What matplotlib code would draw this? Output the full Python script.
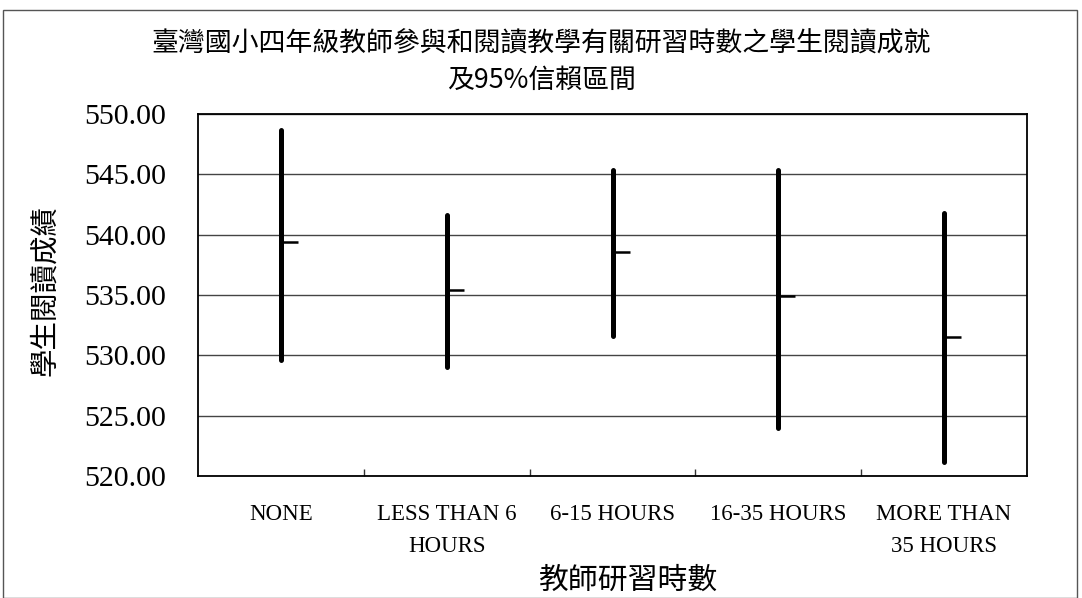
import matplotlib
matplotlib.use("Agg")
import matplotlib.pyplot as plt
from matplotlib.patches import Rectangle
from matplotlib.path import Path

categories = ["NONE", "LESS THAN 6\nHOURS", "6-15 HOURS", "16-35 HOURS", "MORE THAN\n35 HOURS"]
high = [548.7, 541.6, 545.4, 545.4, 541.8]
low = [529.6, 529.0, 531.6, 524.0, 521.2]
mean = [539.4, 535.4, 538.6, 534.9, 531.5]
yticks = [520, 525, 530, 535, 540, 545, 550]

title = "臺灣國小四年級教師參與和閱讀教學有關研習時數之學生閱讀成就\n及95%信賴區間"
xlabel = "教師研習時數"
ylabel = "學生閱讀成績"

cjk = ["Noto Sans CJK TC", "DejaVu Sans"]
serif = ["Liberation Serif", "DejaVu Serif"]

W, H = 1082, 598
fig = plt.figure(figsize=(W / 100, H / 100), dpi=100)
ax = fig.add_axes([198 / W, 1 - 476 / H, (1027 - 198) / W, (476 - 114) / H])

x = list(range(len(categories)))
ax.vlines(x, low, high, colors="black", linewidth=3.6, capstyle="round", zorder=3)
tick_marker = Path([(0, 0), (1, 0)], [Path.MOVETO, Path.LINETO])
ax.plot(x, mean, linestyle="none", marker=tick_marker, markersize=24,
        markeredgewidth=1.8, markeredgecolor="black", color="black", zorder=4)

ax.set_xlim(-0.5, len(categories) - 0.5)
ax.set_ylim(520, 550)
ax.set_yticks(yticks)
ax.set_yticklabels([f"{v:.2f}" for v in yticks], family=serif, fontsize=21.5)
ax.tick_params(axis="y", length=0, pad=23)

ax.set_xticks([i + 0.5 for i in x[:-1]])
ax.set_xticks(x, minor=True)
ax.set_xticklabels([])
ax.set_xticklabels(categories, minor=True, family=serif, fontsize=16.5, linespacing=1.7)
ax.tick_params(axis="x", which="major", direction="in", length=5, width=1, color="#333333")
ax.tick_params(axis="x", which="minor", length=0, pad=20)
for lbl in ax.get_xticklabels(minor=True):
    lbl.set_verticalalignment("top")

ax.grid(axis="y", color="#444444", linewidth=1.0)
ax.set_axisbelow(True)
for s in ax.spines.values():
    s.set_linewidth(1.3)
    s.set_color("black")

fig.text(541 / W, 1 - 62 / H, title, ha="center", va="center", family=cjk,
         fontsize=19.4, linespacing=1.45)
fig.text(628 / W, 1 - 580 / H, xlabel, ha="center", va="center", family=cjk, fontsize=21.5)
fig.text(45 / W, 1 - 290 / H, ylabel, ha="center", va="center", family=cjk,
         fontsize=20.5, rotation=90)

fig.patches.append(Rectangle((3 / W, 0), (1077 - 3) / W, 1 - 10 / H,
                             transform=fig.transFigure, fill=False,
                             edgecolor="#555555", linewidth=1.0))

fig.savefig("out.png", dpi=100)
